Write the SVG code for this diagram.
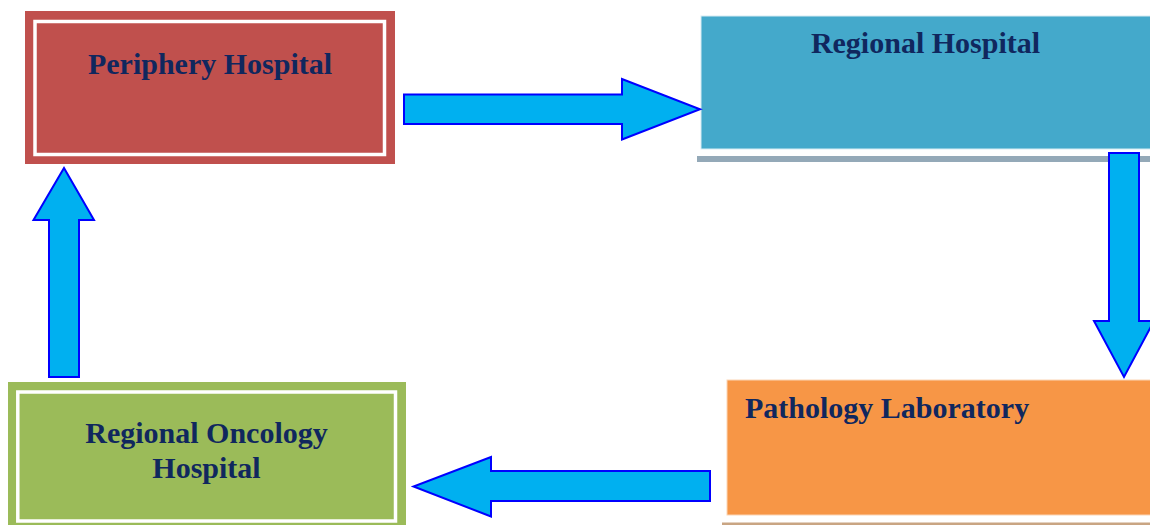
<svg xmlns="http://www.w3.org/2000/svg" width="1150" height="525" viewBox="0 0 1150 525">
<style>
.lbl{font-family:"Liberation Serif","Times New Roman",serif;font-weight:bold;font-size:30px;fill:#10275E}
.arr{fill:#00B0F0;stroke:#0000FF;stroke-width:2;stroke-linejoin:miter}
.inner{fill:none;stroke:#FFFFFF;stroke-width:3.5}
</style>
<rect width="1150" height="525" fill="#FFFFFF"/>
<g id="periphery">
<rect x="25" y="11" width="370" height="153" fill="#C0504D"/>
<rect class="inner" x="35" y="21.5" width="349.5" height="133"/>
<text class="lbl" x="210" y="74" text-anchor="middle">Periphery Hospital</text>
</g>
<g id="regional">
<rect x="697" y="156" width="460" height="6" fill="#94A9B8"/>
<rect x="701" y="16" width="460" height="133" fill="#44A9CB" stroke="#D5ECF3" stroke-width="1"/>
<text class="lbl" x="925.5" y="53" text-anchor="middle">Regional Hospital</text>
</g>
<g id="pathology">
<rect x="722" y="522.5" width="440" height="6" fill="#C9A583"/>
<rect x="727" y="380" width="440" height="135" fill="#F79646" stroke="#FBD5B5" stroke-width="1"/>
<text class="lbl" x="745" y="418">Pathology Laboratory</text>
</g>
<g id="oncology">
<rect x="8" y="382" width="398" height="160" fill="#9BBB59"/>
<rect class="inner" x="17.8" y="392" width="377.7" height="129"/>
<text class="lbl" x="206.5" y="443" text-anchor="middle">Regional Oncology</text>
<text class="lbl" x="206.5" y="478" text-anchor="middle">Hospital</text>
</g>
<g id="connectors">
<polygon class="arr" points="404,94.5 622,94.5 622,79 700,109.3 622,139.5 622,124 404,124"/>
<polygon class="arr" points="1109,153 1139,153 1139,321 1154,321 1124,377 1094,321 1109,321"/>
<polygon class="arr" points="710,471 491,471 491,457 413.5,486.5 491,516.5 491,501 710,501"/>
<polygon class="arr" points="49,377 79,377 79,220 94,220 64,168 33.5,220 49,220"/>
</g>
</svg>
